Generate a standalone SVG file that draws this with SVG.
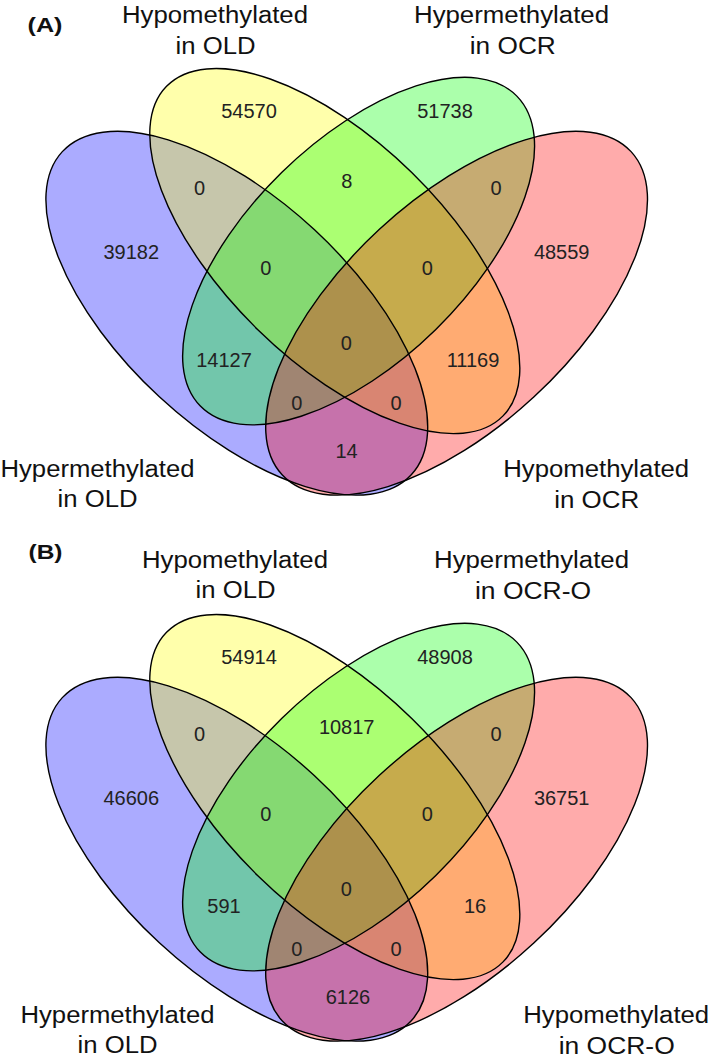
<svg xmlns="http://www.w3.org/2000/svg" width="709" height="1062" viewBox="0 0 709 1062">
<style>
.lab{font-family:"Liberation Sans",Arial,Helvetica,sans-serif;font-size:23px;fill:#111;text-anchor:middle}
.num{font-family:"Liberation Sans",Arial,Helvetica,sans-serif;font-size:20px;fill:#222;text-anchor:middle}
.tag{font-family:"Liberation Sans",Arial,Helvetica,sans-serif;font-size:19.5px;font-weight:bold;fill:#111}
.fb{fill:#0000ff;fill-opacity:0.33}
.fy{fill:#ffff00;fill-opacity:0.33}
.fg{fill:#00ff00;fill-opacity:0.33}
.fr{fill:#ff0000;fill-opacity:0.33}
.ol{fill:none;stroke:#000;stroke-width:1.4}
</style>
<defs>
<ellipse id="eB" cx="236.8" cy="313.2" rx="237.8" ry="114" transform="rotate(42.8 236.8 313.2)"/>
<ellipse id="eY" cx="334.8" cy="251.1" rx="235.5" ry="110" transform="rotate(44.4 334.8 251.1)"/>
<ellipse id="eG" cx="358.6" cy="251.1" rx="221.5" ry="110" transform="rotate(-44.4 358.6 251.1)"/>
<ellipse id="eR" cx="456.6" cy="313.2" rx="237.8" ry="114" transform="rotate(-42.8 456.6 313.2)"/>
</defs>
<rect width="709" height="1062" fill="#fff"/>

<g id="panelA">
<text class="tag" x="27.5" y="31.5" textLength="35" lengthAdjust="spacingAndGlyphs">(A)</text>
<g id="A-set1-hyper-old">
<use href="#eB" class="fb"/>
<text class="lab" x="97.5" y="477.3" textLength="194" lengthAdjust="spacingAndGlyphs">Hypermethylated</text>
<text class="lab" x="97.5" y="507.3" textLength="80" lengthAdjust="spacingAndGlyphs">in OLD</text>
</g>
<g id="A-set2-hypo-old">
<use href="#eY" class="fy"/>
<text class="lab" x="215" y="23.3" textLength="186" lengthAdjust="spacingAndGlyphs">Hypomethylated</text>
<text class="lab" x="215.5" y="53.5" textLength="80" lengthAdjust="spacingAndGlyphs">in OLD</text>
</g>
<g id="A-set3-hyper-ocr">
<use href="#eG" class="fg"/>
<text class="lab" x="511.5" y="23.3" textLength="195" lengthAdjust="spacingAndGlyphs">Hypermethylated</text>
<text class="lab" x="512.8" y="54" textLength="86" lengthAdjust="spacingAndGlyphs">in OCR</text>
</g>
<g id="A-set4-hypo-ocr">
<use href="#eR" class="fr"/>
<text class="lab" x="596.2" y="476.7" textLength="186" lengthAdjust="spacingAndGlyphs">Hypomethylated</text>
<text class="lab" x="596.7" y="508" textLength="85" lengthAdjust="spacingAndGlyphs">in OCR</text>
</g>
<g id="A-outlines" class="ol">
<use href="#eB"/><use href="#eY"/><use href="#eG"/><use href="#eR"/>
</g>
<g id="A-counts" class="num">
<text x="249" y="118.3">54570</text>
<text x="445" y="118.3">51738</text>
<text x="199.5" y="194.5">0</text>
<text x="346.7" y="188.3">8</text>
<text x="496" y="194.5">0</text>
<text x="131.3" y="259.3">39182</text>
<text x="561.7" y="259.3">48559</text>
<text x="265.7" y="275">0</text>
<text x="427.3" y="275">0</text>
<text x="346.3" y="350">0</text>
<text x="224" y="367">14127</text>
<text x="473" y="367">11169</text>
<text x="296.7" y="410">0</text>
<text x="396" y="410">0</text>
<text x="346.5" y="457.7">14</text>
</g>
</g>

<g id="panelB">
<text class="tag" x="28.5" y="559" textLength="34" lengthAdjust="spacingAndGlyphs">(B)</text>
<g transform="translate(0,546)">
<g id="B-set1-hyper-old">
<use href="#eB" class="fb"/>
</g>
<g id="B-set2-hypo-old">
<use href="#eY" class="fy"/>
</g>
<g id="B-set3-hyper-ocro">
<use href="#eG" class="fg"/>
</g>
<g id="B-set4-hypo-ocro">
<use href="#eR" class="fr"/>
</g>
<g id="B-outlines" class="ol">
<use href="#eB"/><use href="#eY"/><use href="#eG"/><use href="#eR"/>
</g>
<g id="B-counts" class="num">
<text x="249" y="118.3">54914</text>
<text x="445" y="118.3">48908</text>
<text x="199.5" y="194.5">0</text>
<text x="346.7" y="188.3">10817</text>
<text x="496" y="194.5">0</text>
<text x="131.3" y="259.3">46606</text>
<text x="561.7" y="259.3">36751</text>
<text x="265.7" y="275">0</text>
<text x="427.3" y="275">0</text>
<text x="346.3" y="350">0</text>
<text x="224" y="367">591</text>
<text x="475" y="367">16</text>
<text x="296.7" y="410">0</text>
<text x="396" y="410">0</text>
<text x="348" y="457.7">6126</text>
</g>
</g>
<g id="B-labels">
<text class="lab" x="117.5" y="1023" textLength="194" lengthAdjust="spacingAndGlyphs">Hypermethylated</text>
<text class="lab" x="117.5" y="1053" textLength="80" lengthAdjust="spacingAndGlyphs">in OLD</text>
<text class="lab" x="235" y="567.5" textLength="186" lengthAdjust="spacingAndGlyphs">Hypomethylated</text>
<text class="lab" x="235.5" y="598" textLength="80" lengthAdjust="spacingAndGlyphs">in OLD</text>
<text class="lab" x="531.5" y="567.5" textLength="195" lengthAdjust="spacingAndGlyphs">Hypermethylated</text>
<text class="lab" x="533" y="598.5" textLength="116" lengthAdjust="spacingAndGlyphs">in OCR-O</text>
<text class="lab" x="616.2" y="1022.7" textLength="186" lengthAdjust="spacingAndGlyphs">Hypomethylated</text>
<text class="lab" x="616.7" y="1054" textLength="116" lengthAdjust="spacingAndGlyphs">in OCR-O</text>
</g>
</g>
</svg>
